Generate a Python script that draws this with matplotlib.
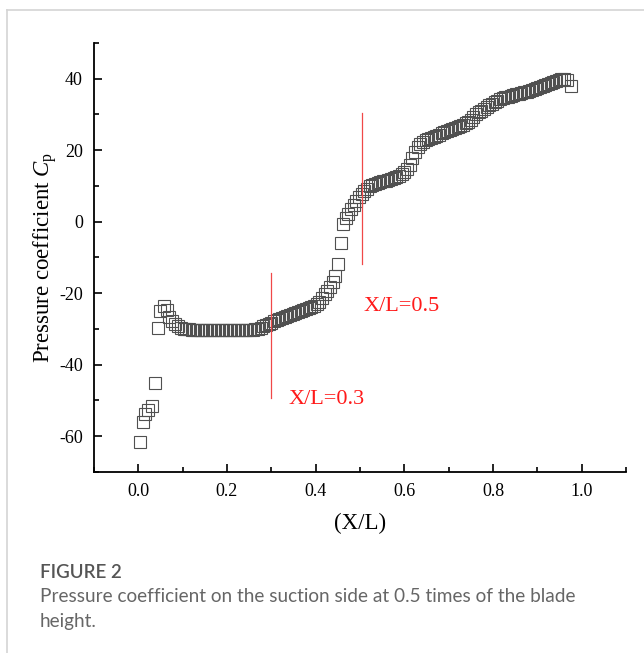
import matplotlib
matplotlib.use("Agg")
import matplotlib.pyplot as plt
from matplotlib.ticker import MultipleLocator
from matplotlib.lines import Line2D

plt.rcParams["mathtext.fontset"] = "custom"
plt.rcParams["mathtext.it"] = "Liberation Serif:italic"
plt.rcParams["mathtext.rm"] = "Liberation Serif"

# ---- data ----
x_lead = [0.004, 0.010, 0.016, 0.022, 0.031, 0.037, 0.044, 0.050, 0.057, 0.064,
          0.070, 0.076, 0.082, 0.089]
cp_lead = [-61.5, -55.9, -53.7, -52.6, -51.5, -45.2, -29.7, -24.9, -23.7, -24.7,
           -26.7, -27.7, -28.6, -29.3]

x_flat = [0.096, 0.102, 0.108, 0.114, 0.120, 0.126, 0.132, 0.138, 0.144, 0.150,
          0.156, 0.162, 0.168, 0.174, 0.180, 0.186, 0.192, 0.198, 0.204, 0.210,
          0.216, 0.222, 0.228, 0.234, 0.240, 0.246, 0.252, 0.258, 0.264, 0.270, 0.276]
cp_flat = [-29.7, -29.9, -30.0, -30.1, -30.2, -30.2, -30.3, -30.3, -30.3, -30.4,
           -30.4, -30.4, -30.4, -30.4, -30.4, -30.4, -30.4, -30.4, -30.4, -30.4,
           -30.4, -30.4, -30.4, -30.4, -30.4, -30.4, -30.3, -30.3, -30.1, -29.9, -29.6]

x_rise = [0.282, 0.288, 0.294, 0.300, 0.306, 0.312, 0.318, 0.324, 0.330, 0.336,
          0.342, 0.348, 0.354, 0.360, 0.366, 0.372, 0.378, 0.384, 0.390, 0.396,
          0.402, 0.408, 0.414, 0.420, 0.426, 0.432, 0.438, 0.443, 0.450, 0.457, 0.462]
cp_rise = [-29.3, -28.9, -28.6, -28.2, -27.8, -27.5, -27.2, -26.9, -26.6, -26.3,
           -26.1, -25.9, -25.6, -25.3, -25.0, -24.7, -24.4, -24.1, -23.8, -23.5,
           -23.0, -22.4, -21.4, -20.2, -19.3, -18.2, -16.8, -15.2, -11.8, -6.0, -0.6]

x_aft = [0.468, 0.474, 0.480, 0.486, 0.492, 0.498, 0.504, 0.510, 0.516, 0.522,
         0.528, 0.534, 0.540, 0.546, 0.552, 0.558, 0.564, 0.570, 0.576, 0.582,
         0.588, 0.594, 0.600, 0.606, 0.612, 0.618, 0.624, 0.630, 0.636, 0.642,
         0.648, 0.654, 0.660, 0.666, 0.672, 0.678, 0.684, 0.690, 0.696, 0.702,
         0.708, 0.714, 0.720, 0.726, 0.732, 0.738, 0.744, 0.750, 0.756, 0.762,
         0.768, 0.774, 0.780, 0.786, 0.792, 0.798, 0.804, 0.810, 0.816, 0.822,
         0.828, 0.834, 0.840, 0.846, 0.852, 0.858, 0.864, 0.870, 0.876, 0.882,
         0.888, 0.894, 0.900, 0.906, 0.912, 0.918, 0.924, 0.930, 0.936, 0.942,
         0.948, 0.954, 0.960, 0.966, 0.975]
cp_aft = [1.0, 2.3, 3.5, 4.6, 5.7, 6.8, 7.8, 8.6, 9.3, 9.9,
          10.3, 10.6, 10.9, 11.1, 11.3, 11.5, 11.7, 11.9, 12.1, 12.4,
          12.8, 13.3, 14.0, 14.8, 15.8, 17.8, 19.6, 20.8, 21.8, 22.4,
          22.8, 23.2, 23.5, 23.8, 24.1, 24.4, 24.7, 25.0, 25.3, 25.6,
          25.9, 26.2, 26.5, 26.8, 27.1, 27.5, 28.0, 28.6, 29.3, 30.0,
          30.6, 31.1, 31.6, 32.1, 32.6, 33.0, 33.4, 33.8, 34.2, 34.5,
          34.8, 35.0, 35.2, 35.4, 35.6, 35.8, 36.0, 36.2, 36.4, 36.6,
          36.8, 37.0, 37.3, 37.6, 37.9, 38.2, 38.6, 38.9, 39.2, 39.5,
          39.7, 39.8, 39.8, 39.6, 38.0]

x_all = x_lead + x_flat + x_rise + x_aft
cp_all = cp_lead + cp_flat + cp_rise + cp_aft

marker_lines_x = [0.3, 0.505]
marker_lines_y0 = [-49.2, -11.7]
marker_lines_y1 = [-14.2, 30.4]
marker_labels = ["X/L=0.3", "X/L=0.5"]
label_x = [0.338, 0.507]
label_y = [-49.8, -23.6]

x_ticks = [0.0, 0.2, 0.4, 0.6, 0.8, 1.0]
x_ticklabels = ["0.0", "0.2", "0.4", "0.6", "0.8", "1.0"]
y_ticks = [-60, -40, -20, 0, 20, 40]
y_ticklabels = ["-60", "-40", "-20", "0", "20", "40"]

serif = ["Liberation Serif", "DejaVu Serif"]
sans = ["Lato", "DejaVu Sans"]

fig = plt.figure(figsize=(6.44, 6.53), dpi=100)
ax = fig.add_axes([94 / 644, 1 - 472 / 653, (626 - 94) / 644, (472 - 43) / 653])

ax.plot(x_all, cp_all, linestyle="none", marker="s", markersize=8.5,
        markerfacecolor="none", markeredgecolor="#505050", markeredgewidth=0.8)

for xv, y0, y1 in zip(marker_lines_x, marker_lines_y0, marker_lines_y1):
    ax.plot([xv, xv], [y0, y1], color="#f04848", linewidth=0.9)
for xv, yv, t in zip(label_x, label_y, marker_labels):
    ax.text(xv, yv, t, color="#ff1a1a", fontsize=16, family=serif,
            ha="left", va="center")

ax.set_xlim(-0.1, 1.1)
ax.set_ylim(-70, 50)
ax.set_xticks(x_ticks)
ax.set_xticklabels(x_ticklabels)
ax.set_yticks(y_ticks)
ax.set_yticklabels(y_ticklabels)
ax.xaxis.set_minor_locator(MultipleLocator(0.1))
ax.yaxis.set_minor_locator(MultipleLocator(10))
ax.tick_params(which="major", direction="in", length=6, width=1.2,
               labelsize=13, pad=8)
ax.tick_params(which="minor", direction="in", length=3.5, width=1.2)
for lab in ax.get_xticklabels() + ax.get_yticklabels():
    lab.set_family(serif)

for s in ["top", "right"]:
    ax.spines[s].set_visible(False)
for s in ["left", "bottom"]:
    ax.spines[s].set_linewidth(1.3)

ax.set_xlabel("(X/L)", fontsize=16.5, family=serif, labelpad=9)
ax.set_ylabel(r"Pressure coefficient $C_\mathrm{p}$", fontsize=16.5, family=serif,
              labelpad=0)

# card border
fig.add_artist(Line2D([7 / 644, 7 / 644], [0, 1 - 10 / 653], color="#d4d4d4",
                      linewidth=1.2, transform=fig.transFigure))
fig.add_artist(Line2D([7 / 644, 1], [1 - 10 / 653, 1 - 10 / 653], color="#d4d4d4",
                      linewidth=1.2, transform=fig.transFigure))

fig.text(40 / 644, 1 - 573 / 653, "FIGURE 2", fontsize=13.5, color="#555555",
         family=sans, weight="semibold", va="center", ha="left")
fig.text(40 / 644, 1 - 597 / 653,
         "Pressure coefficient on the suction side at 0.5 times of the blade",
         fontsize=13.7, color="#666666", family=sans,
         va="center", ha="left")
fig.text(40 / 644, 1 - 621 / 653, "height.", fontsize=13.7, color="#666666",
         family=sans, va="center", ha="left")

fig.savefig("out.png", dpi=100)
